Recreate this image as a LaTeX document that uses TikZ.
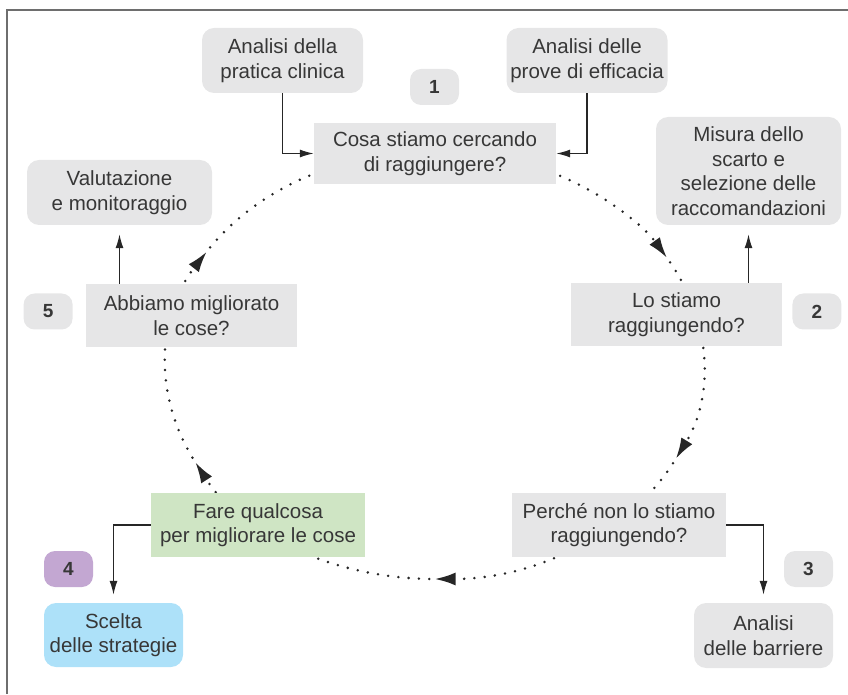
\documentclass[tikz,border=0pt]{standalone}
\usepackage{fontspec}
\setmainfont{Liberation Sans}
\usepackage{tikz}
\usetikzlibrary{arrows.meta, positioning}

\definecolor{boxgray}{RGB}{230,230,231}
\definecolor{actgreen}{RGB}{207,229,196}
\definecolor{stratblue}{RGB}{173,225,249}
\definecolor{fourpurple}{RGB}{195,167,210}
\definecolor{framegray}{RGB}{110,110,110}
\definecolor{txt}{RGB}{55,55,55}

\begin{document}
\begin{tikzpicture}[
      x=1pt, y=1pt,
      every node/.style={font=\fontsize{20.5}{24.5}\selectfont, text=txt},
      block/.style={rectangle, rounded corners=12pt, fill=boxgray,
                    inner sep=0pt, align=center},
      qblock/.style={rectangle, fill=boxgray, inner sep=0pt, align=center},
      badge/.style={rectangle, rounded corners=11pt, fill=boxgray,
                    minimum width=49pt, minimum height=36pt,
                    font=\fontsize{19}{19}\selectfont\bfseries},
      arrow/.style={-{Latex[length=14pt, width=8pt]}, line width=1.3pt, draw=black!85},
      loopline/.style={-{Latex[length=21pt, width=13pt]}, line width=2.8pt, line cap=round,
                    dash pattern=on 0pt off 10.3pt, dash phase=5pt, draw=black!85}
    ]
        \useasboundingbox (0,0) rectangle (848,694);
        \draw[framegray, line width=2.5pt] (7,0) -- (7,684) -- (848,684);
        % dotted cycle, drawn first so the boxes hide it
        \coordinate (ctr) at (434.5,329);
        \foreach \a/\b in {148/30, 30/-26, -26/-90, -90/-153, -153/-212}
            \draw[loopline] (ctr) ++(\a:268.5 and 214)
                arc[start angle=\a, end angle=\b, x radius=268.5, y radius=214];
        % questions
        \node[qblock, minimum width=242pt, minimum height=61pt] (aim) at (435,540.5) {Cosa stiamo cercando\\di raggiungere?};
        \node[qblock, minimum width=211pt, minimum height=63pt] (reaching) at (676.5,379.5) {Lo stiamo\\raggiungendo?};
        \node[qblock, minimum width=214pt, minimum height=64pt] (why) at (619,169) {Perché non lo stiamo\\raggiungendo?};
        \node[qblock, minimum width=214pt, minimum height=64pt, fill=actgreen] (act) at (258,169) {Fare qualcosa\\per migliorare le cose};
        \node[qblock, minimum width=211pt, minimum height=63pt] (improved) at (191.5,378.5) {Abbiamo migliorato\\le cose?};
        % side boxes
        \node[block, minimum width=161pt, minimum height=65pt] (prat) at (282.5,633.5) {Analisi della\\pratica clinica};
        \node[block, minimum width=161pt, minimum height=65pt] (prove) at (587,633.5) {Analisi delle\\prove di efficacia};
        \node[block, minimum width=185pt, minimum height=108pt] (misura) at (748.5,523) {Misura dello\\scarto e\\selezione delle\\raccomandazioni};
        \node[block, minimum width=139pt, minimum height=65pt] (barriers) at (763.5,58.5) {Analisi\\delle barriere};
        \node[block, minimum width=139pt, minimum height=64pt, fill=stratblue] (strat) at (113.5,59) {Scelta\\delle strategie};
        \node[block, minimum width=185pt, minimum height=65pt] (valut) at (119.5,501.5) {Valutazione\\e monitoraggio};
        % numbers
        \node[badge] (one) at (434.5,607) {1};
        \node[badge, right=10pt of reaching, yshift=3pt] (two) {2};
        \node[badge] (three) at (808.5,125) {3};
        \node[badge, fill=fourpurple] (four) at (68.5,125) {4};
        \node[badge, left=13pt of improved, yshift=4pt] (five) {5};
        % connectors
        \draw[arrow] (prat) |- (aim);
        \draw[arrow] (prove) |- (aim);
        \draw[arrow, shorten >=9pt] (reaching.north -| misura.south) -- (misura.south);
        \draw[arrow, shorten >=8pt] (why) -| (barriers);
        \draw[arrow, shorten >=8pt] (act) -| (strat);
        \draw[arrow, shorten >=9pt] (improved.north -| valut.south) -- (valut.south);
    \end{tikzpicture}
\end{document}
